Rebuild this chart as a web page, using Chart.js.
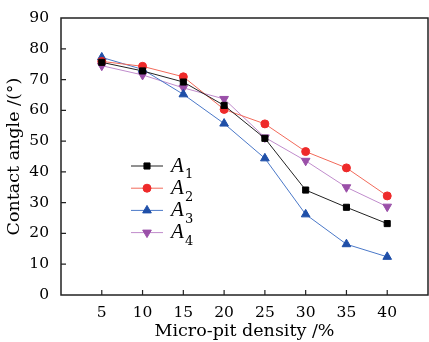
<!DOCTYPE html>
<html>
<head>
<meta charset="utf-8">
<script src="https://cdn.jsdelivr.net/npm/chart.js@4"></script>
<style>
  html, body { margin: 0; padding: 0; background: #fff; }
  #wrap { width: 429px; height: 342px; }
</style>
</head>
<body>
<div id="wrap"><canvas id="c" width="429" height="342"></canvas></div>
<script>
const density = [5, 10, 15, 20, 25, 30, 35, 40];
const a1 = [75.6, 72.8, 69.2, 61.6, 50.9, 34.1, 28.5, 23.2];
const a2 = [75.9, 74.3, 70.9, 60.3, 55.6, 46.6, 41.3, 32.2];
const a3 = [77.2, 73.3, 65.2, 55.7, 44.4, 26.2, 16.5, 12.4];
const a4 = [74.5, 71.5, 67.3, 63.7, 51.2, 43.6, 35.0, 28.7];
const seriesNames = ['1', '2', '3', '4'];

const serif = '"DejaVu Serif", serif';
const pts = ys => density.map((x, i) => ({ x, y: ys[i] }));

function series(label, ys, color, lineColor, style, radius, rotation) {
  return {
    label, data: pts(ys),
    borderColor: lineColor, backgroundColor: color,
    pointBackgroundColor: color, pointBorderColor: color,
    pointStyle: style, pointRotation: rotation || 0,
    pointRadius: radius, borderWidth: 1, pointBorderWidth: 1,
    showLine: true, tension: 0
  };
}

const datasets = [
  series('A1', a1, '#000000', '#222222', 'rect', 4.3),
  series('A2', a2, '#ee2a2a', '#f26a5a', 'circle', 4),
  series('A3', a3, '#1f4fa8', '#4a78c8', 'triangle', 5),
  series('A4', a4, '#9a4fa8', '#c08ccc', 'triangle', 5, 180)
];

// frame, inward ticks and the in-plot legend
const decor = {
  id: 'decor',
  afterDraw(chart) {
    const { ctx, chartArea: a, scales: { x, y } } = chart;
    ctx.save();
    ctx.strokeStyle = '#222';
    ctx.lineWidth = 1.5;
    ctx.strokeRect(a.left, a.top, a.right - a.left, a.bottom - a.top);
    ctx.lineWidth = 1.2;
    ctx.beginPath();
    density.forEach(v => {
      const px = x.getPixelForValue(v);
      ctx.moveTo(px, a.bottom); ctx.lineTo(px, a.bottom - 5);
    });
    for (let v = 10; v <= 80; v += 10) {
      const py = y.getPixelForValue(v);
      ctx.moveTo(a.left, py); ctx.lineTo(a.left + 5, py);
    }
    ctx.stroke();

    datasets.forEach((ds, i) => {
      const yy = 166 + i * 22.2;
      ctx.strokeStyle = ds.borderColor;
      ctx.lineWidth = 1;
      ctx.beginPath(); ctx.moveTo(131, yy); ctx.lineTo(163, yy); ctx.stroke();
      ctx.fillStyle = ds.backgroundColor;
      ctx.strokeStyle = ds.backgroundColor;
      Chart.helpers.drawPoint(ctx, {
        pointStyle: ds.pointStyle, rotation: ds.pointRotation,
        radius: ds.pointRadius, borderWidth: 1
      }, 147, yy);
      ctx.fillStyle = '#000';
      ctx.textBaseline = 'middle';
      ctx.textAlign = 'left';
      ctx.font = 'italic 21px "Liberation Serif", serif';
      ctx.fillText('A', 171, yy);
      ctx.font = '13px ' + serif;
      ctx.fillText(seriesNames[i], 185, yy + 9);
    });
    ctx.restore();
  }
};

new Chart(document.getElementById('c'), {
  type: 'line',
  data: { datasets },
  plugins: [decor],
  options: {
    responsive: false,
    animation: false,
    layout: { autoPadding: false, padding: { top: 18, right: 1, left: 0, bottom: 0 } },
    plugins: { legend: { display: false }, tooltip: { enabled: false } },
    scales: {
      x: {
        type: 'linear', min: 0, max: 45,
        afterFit: s => { s.height = 47; s.paddingRight = 0; s.paddingLeft = 0; },
        grid: { display: false },
        border: { display: false },
        ticks: {
          stepSize: 5, autoSkip: false, maxRotation: 0, padding: 1,
          color: '#000', font: { family: serif, size: 15.5 },
          callback: v => (v === 0 || v === 45) ? '' : v
        },
        title: {
          display: true, text: 'Micro-pit density /%', color: '#000',
          font: { family: serif, size: 17.5 }, padding: { top: 2, bottom: 0 }
        }
      },
      y: {
        min: 0, max: 90,
        afterFit: s => { s.width = 61; s.paddingTop = 0; s.paddingBottom = 0; },
        grid: { display: false },
        border: { display: false },
        ticks: {
          stepSize: 10, padding: 4,
          color: '#000', font: { family: serif, size: 15.5 }
        },
        title: {
          display: true, text: 'Contact angle /(°)', color: '#000',
          font: { family: serif, size: 17.5 }, padding: { bottom: 1 }
        }
      }
    }
  }
});
</script>
</body>
</html>
